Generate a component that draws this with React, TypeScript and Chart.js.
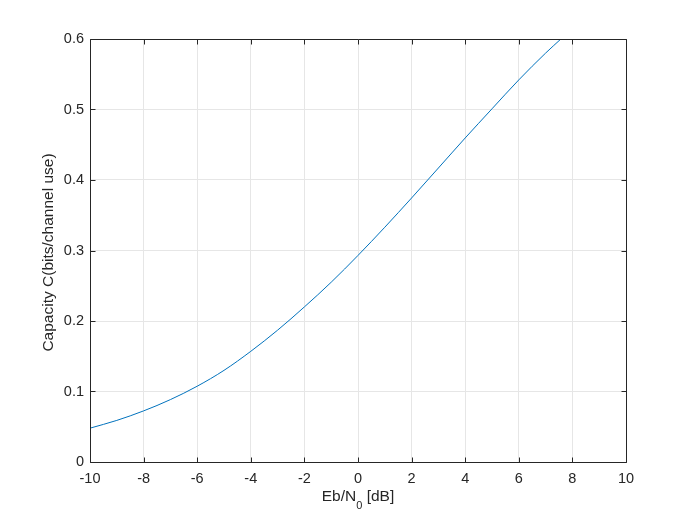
import React, { useEffect, useRef } from "react";
import { Chart, registerables } from "chart.js";

Chart.register(...registerables);

const ebn0Db = [-10, -9, -8, -7, -6, -5, -4, -3, -2, -1, 0, 1, 2, 3, 4, 5, 6, 7, 7.57];
const capacity = [0.048, 0.059, 0.0725, 0.0885, 0.1075, 0.13, 0.157, 0.187, 0.22, 0.255, 0.293, 0.333, 0.3745, 0.417, 0.4596, 0.501, 0.542, 0.58, 0.6];
const xTicks = [-10, -8, -6, -4, -2, 0, 2, 4, 6, 8, 10];
const yTicks = [0, 0.1, 0.2, 0.3, 0.4, 0.5, 0.6];

const FONT = "'Liberation Sans', Arial, Helvetica, sans-serif";
const TXT = "#262626";

const framePlugin = {
  id: "frame",
  afterDraw(chart: any) {
    const { ctx, chartArea } = chart;
    const { left, right, top, bottom } = chartArea;
    const xs = chart.scales.x;
    const ys = chart.scales.y;
    ctx.save();
    ctx.strokeStyle = TXT;
    ctx.lineWidth = 1;
    ctx.beginPath();
    const L = Math.round(left) + 0.5;
    const R = Math.round(right) + 0.5;
    const T = Math.round(top) + 0.5;
    const B = Math.round(bottom) + 0.5;
    ctx.rect(L, T, R - L, B - T);
    const tl = 5;
    xTicks.forEach((v) => {
      const px = Math.round(xs.getPixelForValue(v)) + 0.5;
      ctx.moveTo(px, B);
      ctx.lineTo(px, B - tl);
      ctx.moveTo(px, T);
      ctx.lineTo(px, T + tl);
    });
    yTicks.forEach((v) => {
      const py = Math.round(ys.getPixelForValue(v)) + 0.5;
      ctx.moveTo(L, py);
      ctx.lineTo(L + tl, py);
      ctx.moveTo(R, py);
      ctx.lineTo(R - tl, py);
    });
    ctx.stroke();

    // axis titles
    ctx.fillStyle = TXT;
    const fs = 15.5;
    const sfs = 11;
    ctx.textBaseline = "alphabetic";
    const p1 = "Eb/N";
    const p2 = "0";
    const p3 = " [dB]";
    ctx.font = `${fs}px ${FONT}`;
    const w1 = ctx.measureText(p1).width;
    const w3 = ctx.measureText(p3).width;
    ctx.font = `${sfs}px ${FONT}`;
    const w2 = ctx.measureText(p2).width;
    const total = w1 + w2 + w3;
    const cx = (left + right) / 2;
    const baseY = 501;
    const x0 = cx - total / 2;
    ctx.textAlign = "left";
    ctx.font = `${fs}px ${FONT}`;
    ctx.fillText(p1, x0, baseY);
    ctx.font = `${sfs}px ${FONT}`;
    ctx.fillText(p2, x0 + w1, baseY + 8);
    ctx.font = `${fs}px ${FONT}`;
    ctx.fillText(p3, x0 + w1 + w2, baseY);

    ctx.translate(49, (top + bottom) / 2 + 2);
    ctx.rotate(-Math.PI / 2);
    ctx.textAlign = "center";
    ctx.textBaseline = "middle";
    ctx.fillText("Capacity C(bits/channel use)", 0, 0);
    ctx.restore();
  },
};

export default function App() {
  const ref = useRef<HTMLCanvasElement | null>(null);
  useEffect(() => {
    document.body.style.margin = "0";
    const canvas = ref.current!;
    const chart = new Chart(canvas, {
      type: "line",
      data: {
        datasets: [
          {
            data: ebn0Db.map((x, i) => ({ x, y: capacity[i] })),
            borderColor: "#0072BD",
            borderWidth: 1,
            pointRadius: 0,
            fill: false,
            cubicInterpolationMode: "monotone",
          },
        ],
      },
      options: {
        animation: false,
        responsive: false,
        maintainAspectRatio: false,
        layout: { padding: { left: 0, right: 66, top: 39, bottom: 0 } },
        plugins: { legend: { display: false }, tooltip: { enabled: false } },
        scales: {
          x: {
            type: "linear",
            min: -10,
            max: 10,
            afterBuildTicks: (s: any) => {
              s.ticks = xTicks.map((v) => ({ value: v }));
            },
            afterFit: (s: any) => {
              s.height = 57;
            },
            grid: { color: "#e6e6e6", drawTicks: false },
            border: { display: false },
            ticks: {
              color: TXT,
              font: { family: FONT, size: 14.5 },
              padding: 8,
              maxRotation: 0,
              callback: (v: any) => String(v),
            },
          },
          y: {
            type: "linear",
            min: 0,
            max: 0.6,
            afterBuildTicks: (s: any) => {
              s.ticks = yTicks.map((v) => ({ value: v }));
            },
            afterFit: (s: any) => {
              s.width = 90;
            },
            grid: { color: "#e6e6e6", drawTicks: false },
            border: { display: false },
            ticks: {
              color: TXT,
              font: { family: FONT, size: 14.5 },
              padding: 6,
              callback: (v: any) => (v === 0 ? "0" : String(Math.round(v * 10) / 10)),
            },
          },
        },
      },
      plugins: [framePlugin],
    });
    return () => chart.destroy();
  }, []);
  return <canvas ref={ref} width={692} height={519} style={{ display: "block" }} />;
}
